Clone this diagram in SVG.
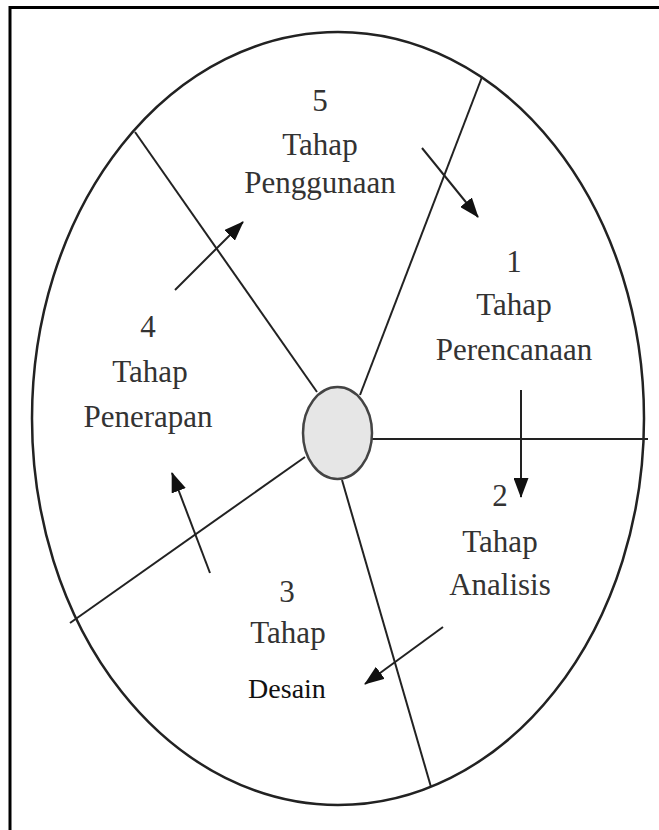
<svg xmlns="http://www.w3.org/2000/svg" width="659" height="830" viewBox="0 0 659 830">
<defs>
<marker id="ah2" markerWidth="20" markerHeight="15" refX="19" refY="7.5" orient="auto" markerUnits="userSpaceOnUse" viewBox="0 0 20 15">
<path d="M0,0 L20,7.5 L0,15 Z" fill="#111"/>
</marker>
</defs>
<style>
.lbl{font-family:"Liberation Serif","Times New Roman",serif;font-size:31px;fill:#333;text-anchor:middle}
.des{font-family:"Liberation Serif","Times New Roman",serif;font-size:28px;fill:#111;text-anchor:middle}
.div{stroke:#222;stroke-width:2;fill:none}
.arr{stroke:#222;stroke-width:2;fill:none;marker-end:url(#ah2)}
</style>
<rect width="659" height="830" fill="#fff"/>
<path d="M10,830 V7.5 H659" fill="none" stroke="#000" stroke-width="3"/>
<ellipse id="outer" cx="338" cy="418.5" rx="306" ry="386.5" fill="none" stroke="#222" stroke-width="2.5"/>
<g id="connectors">
<line class="div" x1="372" y1="439" x2="648" y2="439" stroke-width="2.5"/>
<line class="div" x1="360" y1="395" x2="482" y2="77"/>
<line class="div" x1="317" y1="392" x2="135" y2="132"/>
<line class="div" x1="305" y1="457" x2="70" y2="623"/>
<line class="div" x1="342" y1="480" x2="431" y2="787"/>
<line class="arr" x1="422" y1="148" x2="478" y2="217"/>
<line class="arr" x1="521" y1="390" x2="521" y2="497"/>
<line class="arr" x1="443" y1="627" x2="365" y2="684"/>
<line class="arr" x1="210" y1="573" x2="172" y2="473"/>
<line class="arr" x1="175" y1="290" x2="243" y2="222"/>
</g>
<g id="center"><ellipse cx="337.5" cy="433" rx="34.5" ry="46" fill="#e6e6e6" stroke="#444" stroke-width="2.5"/></g>
<g id="stage5">
<text class="lbl" x="320" y="111">5</text>
<text class="lbl" x="320" y="155">Tahap</text>
<text class="lbl" x="320" y="193">Penggunaan</text>
</g>
<g id="stage1">
<text class="lbl" x="514" y="272">1</text>
<text class="lbl" x="514" y="315">Tahap</text>
<text class="lbl" x="514" y="360">Perencanaan</text>
</g>
<g id="stage4">
<text class="lbl" x="148" y="337">4</text>
<text class="lbl" x="150" y="382">Tahap</text>
<text class="lbl" x="148" y="427">Penerapan</text>
</g>
<g id="stage2">
<text class="lbl" x="500" y="506">2</text>
<text class="lbl" x="500" y="552">Tahap</text>
<text class="lbl" x="500" y="595">Analisis</text>
</g>
<g id="stage3">
<text class="lbl" x="287" y="602">3</text>
<text class="lbl" x="288" y="643">Tahap</text>
<text class="des" x="287" y="698">Desain</text>
</g>
</svg>
